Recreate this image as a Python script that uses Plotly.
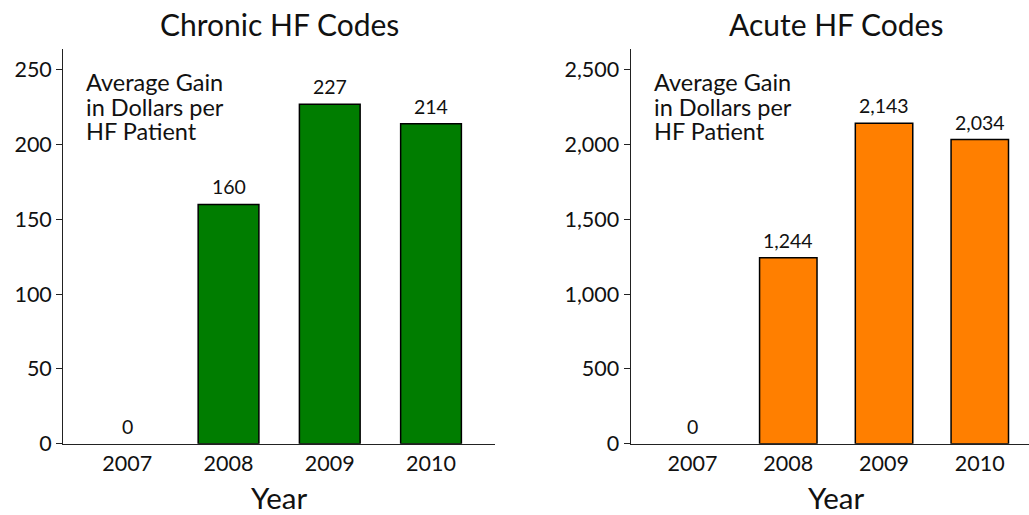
import plotly.graph_objects as go

# dados
years = ["2007", "2008", "2009", "2010"]
chronic_gain = [0, 160, 227, 214]
acute_gain = [0, 1244, 2143, 2034]

panel_titles = ["Chronic HF Codes", "Acute HF Codes"]
note_lines = ["Average Gain", "in Dollars per", "HF Patient"]
x_title = "Year"

FONT = "Lato"
INK = "#111111"
GREEN = "#007d00"
ORANGE = "#ff7f00"

W, H = 1029, 515
Y_DOMAIN = [1 - 443.7 / H, 1 - 49.3 / H]

fig = go.Figure()

panels = [
    dict(vals=chronic_gain, color=GREEN, xa="x", ya="y",
         dom=[63.3 / W, 495 / W], xr=[-0.632, 3.632], yr=[0, 263.8], dtick=50,
         center=279 / W, note_x=84 / W),
    dict(vals=acute_gain, color=ORANGE, xa="x2", ya="y2",
         dom=[630.7 / W, 1.0], xr=[-0.646, 3.514], yr=[0, 2638], dtick=500,
         center=836 / W, note_x=652 / W),
]

axis_common = dict(showgrid=False, zeroline=False, showline=True, automargin=False,
                   linecolor="#222222", linewidth=1.3,
                   tickfont=dict(family=FONT, size=21.5, color=INK))

for i, p in enumerate(panels):
    n = "" if i == 0 else str(i + 1)
    fig.add_trace(go.Bar(
        x=years, y=p["vals"], xaxis=p["xa"], yaxis=p["ya"], width=0.6,
        # barra de altura zero não ganha contorno
        marker=dict(color=p["color"],
                    line=dict(color="black", width=[1.5 if v else 0 for v in p["vals"]])),
        showlegend=False, hoverinfo="skip",
    ))
    fig.update_layout(**{
        f"xaxis{n}": dict(axis_common, domain=p["dom"], range=p["xr"], type="category",
                          anchor=p["ya"], ticks=""),
        f"yaxis{n}": dict(axis_common, domain=Y_DOMAIN, range=p["yr"], anchor=p["xa"],
                          ticks="outside", ticklen=6, tickwidth=1.3, tickcolor="#222222",
                          tickformat=",d", dtick=p["dtick"]),
    })
    # rótulos de valor acima das barras (x pelo índice da categoria)
    for k, v in enumerate(p["vals"]):
        fig.add_annotation(x=k, y=v, xref=p["xa"], yref=p["ya"], text=f"{v:,}",
                           showarrow=False, xanchor="center", yanchor="bottom", yshift=4,
                           font=dict(family=FONT, size=19.5, color=INK))
    # título do painel e do eixo x
    fig.add_annotation(x=p["center"], y=1 - 24 / H, xref="paper", yref="paper",
                       text=panel_titles[i], showarrow=False,
                       xanchor="center", yanchor="middle",
                       font=dict(family=FONT, size=30, color=INK))
    fig.add_annotation(x=p["center"], y=1 - 497 / H, xref="paper", yref="paper",
                       text=x_title, showarrow=False,
                       xanchor="center", yanchor="middle",
                       font=dict(family=FONT, size=29.5, color=INK))
    # nota no canto
    for k, line in enumerate(note_lines):
        fig.add_annotation(x=p["note_x"], y=1 - (82 + 24.5 * k) / H, xref="paper", yref="paper",
                           text=line, showarrow=False, xanchor="left", yanchor="middle",
                           font=dict(family=FONT, size=23.5, color=INK))

fig.update_layout(
    width=W, height=H, autosize=False,
    margin=dict(l=0, r=0, t=0, b=0),
    plot_bgcolor="white", paper_bgcolor="white",
    bargap=0.4,
)

# a margem padrão do <body> desloca a figura 8 px; zera isso
fig.write_html("out.html", config={"displayModeBar": False},
               post_script="document.body.style.margin='0';document.body.style.overflow='hidden';")
